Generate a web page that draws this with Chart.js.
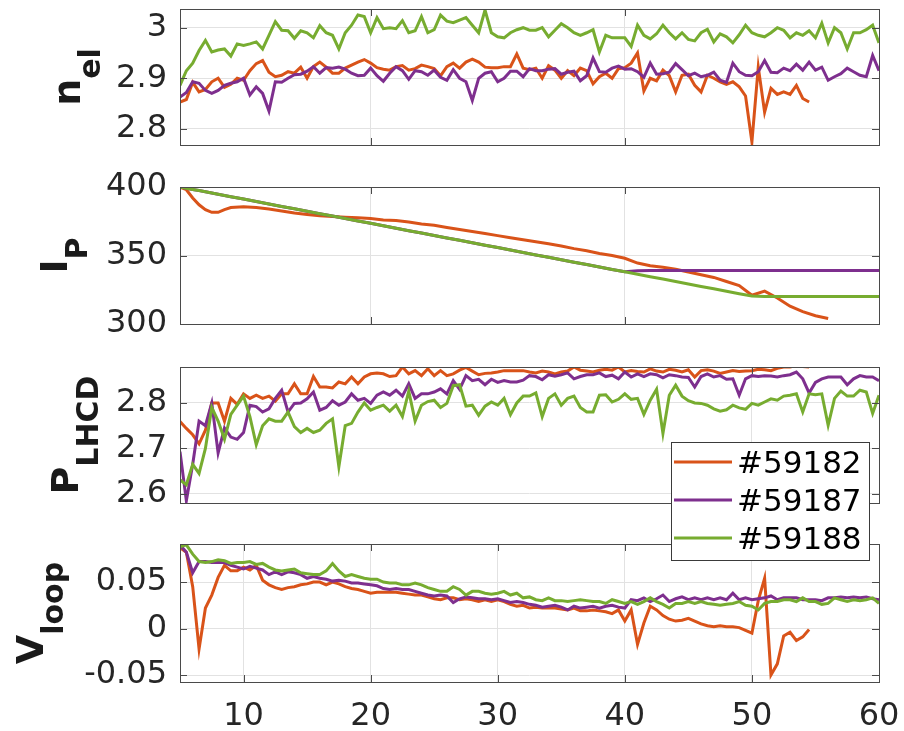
<!DOCTYPE html>
<html lang="en">
<head>
    <meta charset="UTF-8">
    <title>Plasma shots #59182 / #59187 / #59188</title>
    <script src="https://cdn.jsdelivr.net/npm/chart.js"></script>
    <style>
        body { margin: 0; background: white; }
        #wrap { position: relative; width: 904px; height: 731px; background: white; overflow: hidden; }
        #wrap canvas { position: absolute; left: 0; }
        #c1 { top: 0; z-index: 1; }
        #c2 { top: 165px; z-index: 1; }
        #c3 { top: 345px; z-index: 3; }
        #c4 { top: 525px; z-index: 2; }
    </style>
</head>
<body>
    <div id="wrap">
        <canvas id="c1" width="904" height="165"></canvas>
        <canvas id="c2" width="904" height="180"></canvas>
        <canvas id="c3" width="904" height="225"></canvas>
        <canvas id="c4" width="904" height="206"></canvas>
    </div>
    <script>
    // Shot names and colours
    const shots = ['#59182', '#59187', '#59188'];
    const shotColors = ['#D95319', '#7E2F8E', '#77AC30'];

    // Time base (half-step) used by n_el, P_LHCD and V_loop
    const timeHalf = [5,5.5,6,6.5,7,7.5,8,8.5,9,9.5,10,10.5,11,11.5,12,12.5,13,13.5,14,14.5,
        15,15.5,16,16.5,17,17.5,18,18.5,19,19.5,20,20.5,21,21.5,22,22.5,23,23.5,24,24.5,
        25,25.5,26,26.5,27,27.5,28,28.5,29,29.5,30,30.5,31,31.5,32,32.5,33,33.5,34,34.5,
        35,35.5,36,36.5,37,37.5,38,38.5,39,39.5,40,40.5,41,41.5,42,42.5,43,43.5,44,44.5,
        45,45.5,46,46.5,47,47.5,48,48.5,49,49.5,50,50.5,51,51.5,52,52.5,53,53.5,54,54.5,
        55,55.5,56,56.5,57,57.5,58,58.5,59,59.5,60];

    // Time base used by I_P
    const timeIp = [5,5.5,6,6.5,7,7.5,8,8.5,9,10,11,12,13,14,15,16,17,18,19,20,21,22,23,24,25,
        26,27,28,29,30,31,32,33,34,35,36,37,38,39,40,41,42,43,44,45,46,47,48,49,50,
        51,52,53,54,55,56,57,58,59,60];

    // n_el
    const nelOrange = [2.853,2.858,2.892,2.873,2.878,2.893,2.9,2.882,2.888,2.9,
        2.896,2.915,2.929,2.935,2.912,2.903,2.906,2.913,2.91,2.922,
        2.9,2.923,2.932,2.922,2.91,2.91,2.92,2.926,2.932,2.937,
        2.93,2.921,2.918,2.916,2.923,2.925,2.916,2.919,2.926,2.923,
        2.919,2.905,2.923,2.93,2.92,2.932,2.938,2.932,2.922,2.921,
        2.921,2.923,2.923,2.948,2.92,2.917,2.92,2.9,2.925,2.916,
        2.9,2.915,2.905,2.92,2.915,2.889,2.903,2.91,2.9,2.919,
        2.921,2.93,2.95,2.875,2.9,2.895,2.916,2.905,2.873,2.906,
        2.908,2.886,2.873,2.906,2.9,2.893,2.888,2.893,2.883,2.865,
        2.774,2.922,2.833,2.88,2.868,2.873,2.868,2.886,2.86,2.853];
    const nelPurple = [2.863,2.872,2.893,2.89,2.876,2.87,2.876,2.886,2.89,2.893,
        2.9,2.867,2.883,2.87,2.835,2.893,2.892,2.9,2.907,2.908,
        2.914,2.923,2.91,2.921,2.92,2.922,2.918,2.91,2.905,2.906,
        2.92,2.905,2.894,2.91,2.923,2.915,2.898,2.915,2.913,2.906,
        2.916,2.902,2.896,2.917,2.9,2.893,2.856,2.9,2.91,2.913,
        2.893,2.9,2.914,2.914,2.903,2.919,2.915,2.915,2.918,2.919,
        2.908,2.912,2.914,2.895,2.905,2.94,2.913,2.912,2.92,2.924,
        2.918,2.919,2.913,2.902,2.93,2.908,2.909,2.912,2.929,2.917,
        2.905,2.91,2.903,2.906,2.912,2.896,2.892,2.93,2.913,2.906,
        2.905,2.913,2.935,2.912,2.911,2.92,2.915,2.928,2.916,2.932,
        2.916,2.922,2.896,2.903,2.909,2.92,2.913,2.906,2.903,2.945,2.915];
    const nelGreen = [2.886,2.915,2.93,2.955,2.975,2.952,2.956,2.958,2.944,2.968,
        2.965,2.968,2.972,2.958,2.985,3.012,2.995,2.994,2.979,2.994,
        2.99,2.98,3.004,2.99,2.985,2.958,2.99,3.005,3.025,3.022,
        2.99,3.02,2.998,3.0,2.998,3.014,2.99,2.994,3.022,2.99,
        2.996,3.025,3.013,3.01,3.015,3.02,3.005,2.99,3.035,2.99,
        2.982,2.98,2.99,2.996,3.0,2.995,2.995,3.0,2.982,2.995,
        3.008,3.0,2.99,2.985,2.99,2.996,2.952,2.985,2.98,2.98,
        2.98,2.963,3.005,2.985,2.978,2.988,3.005,2.99,2.978,2.99,
        2.977,2.974,2.99,2.997,2.972,2.988,2.982,2.97,2.986,3.005,
        2.99,2.985,2.982,2.99,3.0,2.995,2.98,2.99,2.985,2.994,
        2.98,3.009,2.97,3.0,2.99,2.958,2.99,2.99,2.996,3.005,2.97];

    // I_P
    const ipOrange = [400,398,392,387,383.5,381.5,381.5,383.5,385,385.5,
        385,384,382.5,381,380,379,378.5,378,377.5,377,
        376,375.5,374.5,373,372,370.5,369,367.5,366,364.5,
        363,361.5,360,358.5,357,355,353.5,351.5,350,348,
        344.5,342.5,341.5,340,338,336,334,331,328,321,
        324,319,313,309,306,304];
    const ipPurple = [400,399.1,398.2,397.4,396.5,395.6,394.7,393.8,392.9,391.2,
        389.4,387.6,385.8,384.1,382.3,380.5,378.8,377,375.2,373.5,
        371.7,369.9,368.1,366.4,364.6,362.8,361.1,359.3,357.5,355.8,
        354,352.2,350.4,348.7,346.9,345.1,343.4,341.6,339.8,338.1,
        338.8,339,339,339,339,339,339,339,339,339,
        339,339,339,339,339,339,339,339,339,339];
    const ipGreen = [400,399.1,398.2,397.4,396.5,395.6,394.7,393.8,392.9,391.2,
        389.4,387.6,385.8,384.1,382.3,380.5,378.8,377,375.2,373.5,
        371.7,369.9,368.1,366.4,364.6,362.8,361.1,359.3,357.5,355.8,
        354,352.2,350.4,348.7,346.9,345.1,343.4,341.6,339.8,338.1,
        336.3,334.5,332.8,331,329.2,327.4,325.7,323.9,322.1,320.4,
        320,320,320,320,320,320,320,320,320,320];

    // P_LHCD
    const plhOrange = [2.759,2.744,2.73,2.71,2.74,2.8,2.8,2.76,2.81,2.797,
        2.82,2.81,2.817,2.81,2.815,2.804,2.82,2.82,2.842,2.82,
        2.82,2.858,2.835,2.835,2.833,2.846,2.842,2.857,2.842,2.857,
        2.864,2.866,2.864,2.858,2.86,2.879,2.864,2.871,2.86,2.875,
        2.86,2.871,2.86,2.864,2.872,2.878,2.87,2.862,2.865,2.866,
        2.868,2.871,2.871,2.871,2.871,2.868,2.866,2.87,2.868,2.864,
        2.868,2.87,2.879,2.872,2.87,2.868,2.872,2.874,2.872,2.879,
        2.868,2.871,2.869,2.868,2.875,2.87,2.868,2.874,2.872,2.868,
        2.873,2.857,2.871,2.873,2.87,2.865,2.868,2.871,2.869,2.87,
        2.871,2.874,2.873,2.871,2.876,2.879,2.879,2.882,2.88,2.879];
    const plhPurple = [2.693,2.585,2.665,2.76,2.75,2.8,2.69,2.745,2.725,2.72,
        2.735,2.795,2.792,2.78,2.787,2.81,2.828,2.78,2.799,2.8,
        2.809,2.824,2.784,2.79,2.805,2.795,2.802,2.82,2.806,2.81,
        2.799,2.817,2.824,2.817,2.828,2.815,2.842,2.81,2.82,2.82,
        2.824,2.831,2.82,2.849,2.83,2.86,2.849,2.852,2.84,2.852,
        2.845,2.849,2.846,2.846,2.85,2.86,2.858,2.851,2.862,2.859,
        2.862,2.866,2.853,2.858,2.862,2.862,2.866,2.858,2.861,2.853,
        2.868,2.857,2.864,2.858,2.864,2.862,2.855,2.862,2.86,2.857,
        2.856,2.835,2.858,2.864,2.857,2.86,2.852,2.853,2.817,2.853,
        2.86,2.858,2.86,2.859,2.857,2.86,2.862,2.868,2.853,2.822,
        2.845,2.853,2.857,2.857,2.857,2.84,2.853,2.86,2.857,2.857,2.849];
    const plhGreen = [2.631,2.62,2.665,2.645,2.7,2.79,2.76,2.72,2.775,2.795,
        2.815,2.77,2.708,2.75,2.765,2.76,2.76,2.78,2.748,2.735,
        2.744,2.735,2.74,2.755,2.765,2.66,2.75,2.755,2.78,2.8,
        2.784,2.79,2.795,2.782,2.795,2.77,2.826,2.76,2.795,2.803,
        2.806,2.79,2.799,2.838,2.84,2.793,2.795,2.773,2.793,2.802,
        2.795,2.81,2.774,2.8,2.815,2.815,2.822,2.77,2.81,2.82,
        2.795,2.81,2.815,2.79,2.78,2.78,2.817,2.818,2.802,2.808,
        2.82,2.808,2.81,2.775,2.806,2.83,2.733,2.817,2.839,2.815,
        2.805,2.8,2.799,2.795,2.787,2.782,2.785,2.795,2.789,2.786,
        2.799,2.795,2.802,2.809,2.806,2.815,2.817,2.82,2.78,2.82,
        2.818,2.82,2.751,2.81,2.826,2.815,2.815,2.828,2.824,2.777,2.817];

    // V_loop
    const vlOrange = [0.087,0.082,0.045,-0.022,0.022,0.036,0.055,0.068,0.062,0.062,
        0.066,0.063,0.068,0.052,0.047,0.044,0.042,0.044,0.045,0.047,
        0.048,0.05,0.05,0.047,0.05,0.048,0.045,0.043,0.042,0.04,
        0.038,0.039,0.039,0.039,0.039,0.038,0.037,0.036,0.036,0.034,
        0.032,0.031,0.033,0.033,0.031,0.032,0.031,0.029,0.031,0.029,
        0.031,0.029,0.026,0.024,0.025,0.022,0.023,0.022,0.022,0.022,
        0.021,0.02,0.022,0.019,0.019,0.02,0.019,0.018,0.016,0.02,
        0.008,0.02,-0.017,0.006,0.024,0.02,0.014,0.01,0.008,0.009,
        0.011,0.008,0.005,0.003,0.002,0.003,0.002,0.002,0.001,-0.002,
        -0.005,0.03,0.054,-0.05,-0.038,-0.008,-0.004,-0.013,-0.009,-0.001];
    const vlPurple = [0.09,0.082,0.06,0.072,0.072,0.071,0.071,0.071,0.068,0.066,
        0.064,0.067,0.065,0.063,0.058,0.061,0.058,0.061,0.06,0.058,
        0.054,0.056,0.054,0.053,0.051,0.052,0.051,0.049,0.049,0.048,
        0.047,0.046,0.043,0.042,0.043,0.042,0.042,0.04,0.038,0.036,
        0.035,0.036,0.035,0.028,0.032,0.034,0.033,0.032,0.032,0.031,
        0.032,0.03,0.028,0.029,0.028,0.026,0.025,0.023,0.024,0.025,
        0.023,0.02,0.024,0.022,0.023,0.024,0.022,0.024,0.025,0.023,
        0.022,0.031,0.03,0.033,0.029,0.032,0.036,0.029,0.032,0.034,
        0.031,0.033,0.031,0.033,0.031,0.033,0.031,0.038,0.031,0.033,
        0.031,0.032,0.033,0.035,0.031,0.033,0.033,0.033,0.031,0.031,
        0.031,0.03,0.033,0.033,0.034,0.033,0.034,0.033,0.034,0.032,0.031];
    const vlGreen = [0.088,0.09,0.08,0.072,0.071,0.072,0.074,0.073,0.07,0.071,
        0.071,0.072,0.069,0.07,0.066,0.063,0.062,0.063,0.064,0.06,
        0.059,0.058,0.058,0.062,0.07,0.062,0.056,0.058,0.056,0.054,
        0.053,0.053,0.05,0.049,0.049,0.047,0.047,0.049,0.047,0.044,
        0.042,0.04,0.04,0.045,0.042,0.036,0.04,0.04,0.038,0.037,
        0.038,0.04,0.036,0.038,0.033,0.034,0.031,0.03,0.033,0.03,
        0.03,0.029,0.03,0.031,0.03,0.029,0.029,0.027,0.031,0.029,
        0.027,0.029,0.026,0.029,0.033,0.029,0.026,0.022,0.027,0.027,
        0.029,0.027,0.029,0.027,0.026,0.025,0.026,0.027,0.029,0.025,
        0.024,0.02,0.027,0.029,0.029,0.031,0.031,0.029,0.033,0.029,
        0.029,0.026,0.027,0.033,0.031,0.029,0.031,0.03,0.031,0.033,0.027];

    // Tick positions per panel
    const xTicksNel = [20, 40];
    const xTicksIp = [20, 40];
    const xTicksPlh = [50];
    const xTicksVl = [10, 20, 30, 40, 50, 60];
    const yTicksNel = [2.8, 2.9, 3];
    const yTicksIp = [300, 350, 400];
    const yTicksPlh = [2.6, 2.7, 2.8];
    const yTicksVl = [-0.05, 0, 0.05];

    const FONT = '"DejaVu Sans", sans-serif';
    const TEXT = '#262626';
    const AXIS = '#4a4a4a';
    const GRID = '#e2e2e2';

    function pts(times, vals) {
        return vals.map((v, i) => ({ x: times[i], y: v }));
    }

    // Box round the axes, inward tick marks and the rotated y label
    const frame = {
        id: 'frame',
        afterDatasetsDraw(chart) {
            const { ctx, chartArea: a, scales: { x, y } } = chart;
            const cfg = chart.options.plugins.frame;
            ctx.save();
            ctx.strokeStyle = AXIS;
            ctx.lineWidth = 1;
            ctx.beginPath();
            y.ticks.forEach(t => {
                const py = Math.round(y.getPixelForValue(t.value)) + 0.5;
                ctx.moveTo(a.left, py); ctx.lineTo(a.left + 7, py);
                ctx.moveTo(a.right, py); ctx.lineTo(a.right - 7, py);
            });
            x.ticks.forEach(t => {
                const px = Math.round(x.getPixelForValue(t.value)) + 0.5;
                ctx.moveTo(px, a.bottom); ctx.lineTo(px, a.bottom - 7);
                ctx.moveTo(px, a.top); ctx.lineTo(px, a.top + 7);
            });
            ctx.stroke();
            ctx.strokeRect(Math.round(a.left) + 0.5, Math.round(a.top) + 0.5,
                Math.round(a.right - a.left), Math.round(a.bottom - a.top));

            // y label: bold symbol with subscript, rotated
            const mainFont = 'bold 38px ' + FONT;
            const subFont = 'bold 30px ' + FONT;
            ctx.font = mainFont;
            const wMain = ctx.measureText(cfg.main).width;
            ctx.font = subFont;
            const wSub = ctx.measureText(cfg.sub).width;
            const cy = (a.top + a.bottom) / 2;
            ctx.translate(cfg.labelX, cy);
            ctx.rotate(-Math.PI / 2);
            ctx.fillStyle = '#1a1a1a';
            ctx.textBaseline = 'alphabetic';
            ctx.textAlign = 'left';
            const start = -(wMain + wSub) / 2;
            ctx.font = mainFont;
            ctx.fillText(cfg.main, start, 0);
            ctx.font = subFont;
            ctx.fillText(cfg.sub, start + wMain, 20);
            ctx.restore();
        }
    };

    // Legend box drawn on the P_LHCD panel, hanging over the V_loop panel
    const boxLegend = {
        id: 'boxLegend',
        afterDraw(chart) {
            const cfg = chart.options.plugins.boxLegend;
            if (!cfg.show) return;
            const ctx = chart.ctx;
            ctx.save();
            ctx.fillStyle = 'white';
            ctx.fillRect(671, 97, 198, 118);
            ctx.strokeStyle = '#3a3a3a';
            ctx.lineWidth = 1;
            ctx.strokeRect(671.5, 97.5, 198, 118);
            ctx.font = '31px ' + FONT;
            ctx.textBaseline = 'alphabetic';
            ctx.textAlign = 'left';
            shots.forEach((name, i) => {
                const ly = 117 + i * 38;
                ctx.strokeStyle = shotColors[i];
                ctx.lineWidth = 3;
                ctx.beginPath();
                ctx.moveTo(674, ly);
                ctx.lineTo(732, ly);
                ctx.stroke();
                ctx.fillStyle = '#000';
                ctx.fillText(name, 737, ly + 11);
            });
            ctx.restore();
        }
    };

    function makePanel(id, p) {
        const series = [p.orange, p.purple, p.green];
        return new Chart(document.getElementById(id), {
            type: 'line',
            data: {
                datasets: series.map((vals, i) => ({
                    label: shots[i],
                    data: pts(p.time, vals),
                    borderColor: shotColors[i],
                    borderWidth: 3,
                    pointRadius: 0,
                    tension: 0,
                    fill: false,
                    order: 3 - i
                }))
            },
            options: {
                responsive: false,
                animation: false,
                layout: { padding: p.pad },
                plugins: {
                    legend: { display: false },
                    tooltip: { enabled: false },
                    frame: { main: p.main, sub: p.sub, labelX: p.labelX },
                    boxLegend: { show: !!p.legend }
                },
                scales: {
                    x: {
                        type: 'linear',
                        min: 5,
                        max: 60,
                        afterBuildTicks: s => { s.ticks = p.xTicks.map(v => ({ value: v })); },
                        afterFit: s => { s.height = p.xHeight; s.paddingLeft = 0; s.paddingRight = 0; },
                        grid: { color: GRID, lineWidth: 1, drawTicks: false },
                        border: { display: false },
                        ticks: {
                            display: p.xLabels,
                            padding: 15,
                            maxRotation: 0,
                            autoSkip: false,
                            color: TEXT,
                            font: { family: FONT, size: 32 },
                            callback: v => String(v)
                        }
                    },
                    y: {
                        type: 'linear',
                        min: p.yMin,
                        max: p.yMax,
                        afterBuildTicks: s => { s.ticks = p.yTicks.map(v => ({ value: v })); },
                        afterFit: s => { s.width = 180; s.paddingTop = 0; s.paddingBottom = 0; },
                        grid: { color: GRID, lineWidth: 1, drawTicks: false },
                        border: { display: false },
                        ticks: {
                            padding: 13,
                            autoSkip: false,
                            color: TEXT,
                            font: { family: FONT, size: 32 },
                            callback: v => String(v)
                        }
                    }
                }
            },
            plugins: [frame, boxLegend]
        });
    }

    makePanel('c1', {
        time: timeHalf, orange: nelOrange, purple: nelPurple, green: nelGreen,
        yMin: 2.768, yMax: 3.037, yTicks: yTicksNel, xTicks: xTicksNel,
        xLabels: false, xHeight: 0, pad: { left: 0, right: 25, top: 9, bottom: 20 },
        main: 'n', sub: 'el', labelX: 80
    });
    makePanel('c2', {
        time: timeIp, orange: ipOrange, purple: ipPurple, green: ipGreen,
        yMin: 300, yMax: 400, yTicks: yTicksIp, xTicks: xTicksIp,
        xLabels: false, xHeight: 0, pad: { left: 0, right: 25, top: 22, bottom: 21 },
        main: 'I', sub: 'P', labelX: 67
    });
    makePanel('c3', {
        time: timeHalf, orange: plhOrange, purple: plhPurple, green: plhGreen,
        yMin: 2.58, yMax: 2.879, yTicks: yTicksPlh, xTicks: xTicksPlh,
        xLabels: false, xHeight: 0, pad: { left: 0, right: 25, top: 22, bottom: 67 },
        main: 'P', sub: 'LHCD', labelX: 78, legend: true
    });
    makePanel('c4', {
        time: timeHalf, orange: vlOrange, purple: vlPurple, green: vlGreen,
        yMin: -0.0575, yMax: 0.0909, yTicks: yTicksVl, xTicks: xTicksVl,
        xLabels: true, xHeight: 49, pad: { left: 0, right: 25, top: 19, bottom: 0 },
        main: 'V', sub: 'loop', labelX: 43
    });
    </script>
</body>
</html>
